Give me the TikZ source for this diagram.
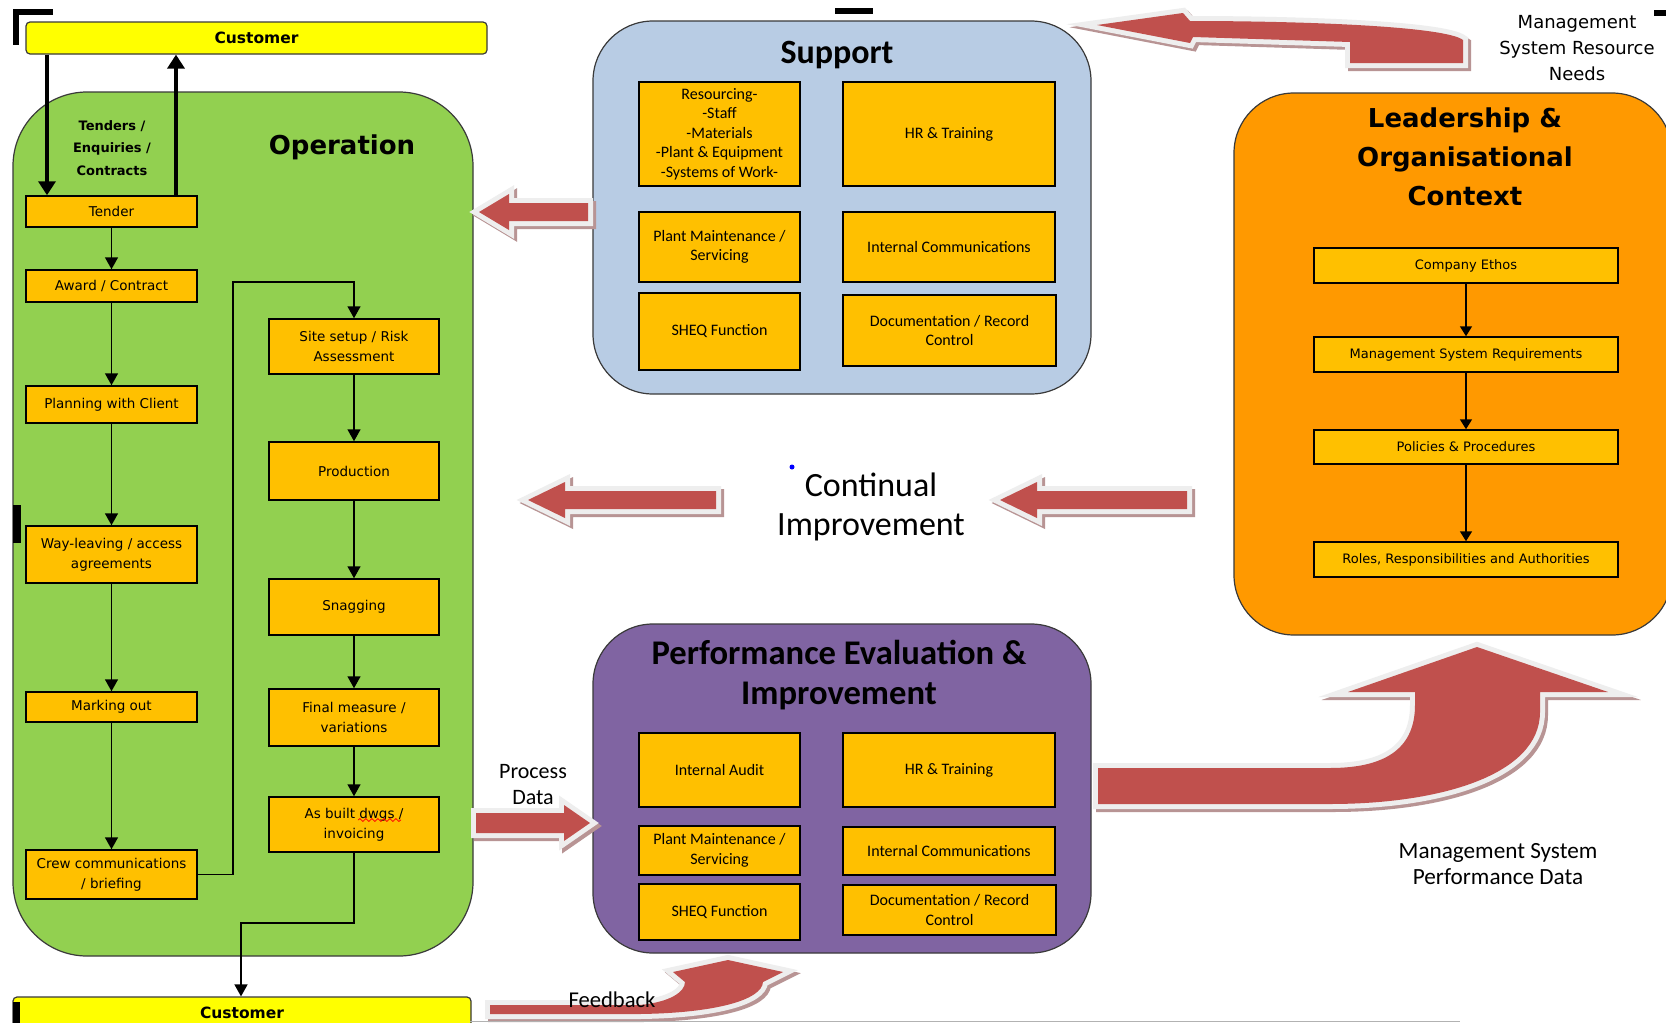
\documentclass[tikz,border=0pt]{standalone}
\usepackage{fontspec}
\setmainfont{Carlito}
\newfontfamily\dv{DejaVu Sans}
\usetikzlibrary{arrows.meta,decorations.pathmorphing}
\definecolor{cyel}{HTML}{FFFF00}
\definecolor{corg}{HTML}{FFC000}
\definecolor{cgrn}{HTML}{92D050}
\definecolor{cblu}{HTML}{B8CCE4}
\definecolor{cpur}{HTML}{8064A2}
\definecolor{cldr}{HTML}{FF9900}
\definecolor{cred}{HTML}{C0504D}
\definecolor{crim}{HTML}{EEEEEE}
\definecolor{cshd}{HTML}{B89494}
\definecolor{cedge}{HTML}{3A3A3A}
\newcommand\blkarrow[1]{%
  \filldraw[cshd,line width=5pt,shift={(3,3)}] #1;
  \filldraw[crim,line width=5pt] #1;
  \fill[cred] #1;}
\begin{document}
\begin{tikzpicture}[x=0.5pt,y=-0.5pt,
 region/.style={draw=cedge,line width=0.6pt,rounded corners=30pt,inner sep=0pt},
 obox/.style={draw=black,line width=0.75pt,fill=corg,inner sep=0pt,align=center,font=\dv\fontsize{6.75pt}{10pt}\selectfont},
 sbox/.style={draw=black,line width=0.75pt,fill=corg,inner sep=0pt,align=center,font=\fontsize{8pt}{9.7pt}\selectfont},
 lbox/.style={obox,font=\dv\fontsize{6.5pt}{8pt}\selectfont},
 custbox/.style={draw=cedge,line width=0.6pt,fill=cyel,rounded corners=2pt,inner sep=0pt,font=\dv\bfseries\fontsize{7.75pt}{9pt}\selectfont},
 arr/.style={line width=0.75pt,-{Triangle[length=6pt,width=6.5pt]}},
 larr/.style={line width=0.75pt,-{Triangle[length=5pt,width=6pt]}},
 bigarr/.style={line width=2pt,-{Triangle[length=7pt,width=8.5pt]}},
 lbl/.style={align=center,inner sep=0pt},
 blk/.style={fill=black}
]
\useasboundingbox (0,0) rectangle (1666,1023);
\fill[white] (0,0) rectangle (1666,1023);

% regions
\node[region,fill=cgrn,rounded corners=37pt,minimum width=230pt,minimum height=432pt] (op) at (243,524) {};
\node[region,fill=cblu,minimum width=249pt,minimum height=186.5pt] (sup) at (842,207.5) {};
\node[region,fill=cpur,minimum width=249pt,minimum height=164.5pt] (pe) at (842,788.5) {};
\node[region,fill=cldr,minimum width=219pt,minimum height=271pt] (ldr) at (1453,364) {};

% customers
\node[custbox,minimum width=230.5pt,minimum height=16pt] (cust1) at (256.5,38) {Customer};
\node[custbox,minimum width=229pt,minimum height=16pt] (cust2) at (242,1013) {Customer};

% titles
\node[font=\dv\bfseries\fontsize{13pt}{15pt}\selectfont] (optitle) at (342,147) {Operation};
\node[font=\bfseries\fontsize{17pt}{19.5pt}\selectfont] (suptitle) at (837,55) {Support};
\node[lbl,font=\bfseries\fontsize{17.3pt}{19.8pt}\selectfont] (petitle) at (839,675) {Performance Evaluation \&\\Improvement};
\node[lbl,font=\dv\bfseries\fontsize{13pt}{19.5pt}\selectfont] (ldrtitle) at (1465,157) {Leadership \&\\Organisational\\Context};
\node[lbl,font=\dv\bfseries\fontsize{6.5pt}{11.25pt}\selectfont] (ten) at (112,148) {Tenders /\\Enquiries /\\Contracts};

% operation left column
\node[obox,minimum width=85.5pt,minimum height=15.5pt] (tender) at (111.5,211.5) {Tender};
\node[obox,minimum width=85.5pt,minimum height=16pt] (award) at (111.5,286) {Award / Contract};
\node[obox,minimum width=85.5pt,minimum height=18.5pt] (plan) at (111.5,404.5) {Planning with Client};
\node[obox,minimum width=85.5pt,minimum height=28.5pt] (way) at (111.5,554.5) {Way-leaving / access\\agreements};
\node[obox,minimum width=85.5pt,minimum height=15pt] (markout) at (111.5,707) {Marking out};
\node[obox,minimum width=85.5pt,minimum height=24.5pt] (crew) at (111.5,874.5) {Crew communications\\/ briefing};
% operation right column
\node[obox,minimum width=85pt,minimum height=27.5pt] (site) at (354,346.5) {Site setup / Risk\\Assessment};
\node[obox,minimum width=85pt,minimum height=29pt] (prod) at (354,471) {Production};
\node[obox,minimum width=85pt,minimum height=28pt] (snag) at (354,607) {Snagging};
\node[obox,minimum width=85pt,minimum height=28.5pt] (final) at (354,717.5) {Final measure /\\variations};
\node[obox,minimum width=85pt,minimum height=27.5pt] (asbuilt) at (354,824.5) {As built dwgs /\\invoicing};
\draw[red,line width=0.4pt,decorate,decoration={snake,amplitude=0.7pt,segment length=3pt}] (358,820) -- (401,820);

\draw[arr] (tender.south) -- (award.north);
\draw[arr] (award.south) -- (plan.north);
\draw[arr] (plan.south) -- (way.north);
\draw[arr] (way.south) -- (markout.north);
\draw[arr] (markout.south) -- (crew.north);
\coordinate (j1) at (233,282);
\draw[arr] (crew.east) -| (j1) -| (site.north);
\draw[arr] (site.south) -- (prod.north);
\draw[arr] (prod.south) -- (snag.north);
\draw[arr] (snag.south) -- (final.north);
\draw[arr] (final.south) -- (asbuilt.north);
\coordinate (j2) at (241,923);
\draw[arr] (asbuilt.south) |- (j2) -- (j2 |- cust2.north);
\coordinate (c1) at (47,0);
\coordinate (c2) at (176,0);
\draw[bigarr] (c1 |- cust1.south) -- (c1 |- tender.north);
\draw[bigarr] (c2 |- tender.north) -- (c2 |- cust1.south);

% support boxes
\node[sbox,minimum width=80.5pt,minimum height=52pt] (res) at (719.5,134) {Resourcing-\\-Staff\\-Materials\\-Plant \& Equipment\\-Systems of Work-};
\node[sbox,minimum width=106pt,minimum height=52pt] (hr1) at (949,134) {HR \& Training};
\node[sbox,minimum width=80.5pt,minimum height=35pt] (pm1) at (719.5,247) {Plant Maintenance /\\Servicing};
\node[sbox,minimum width=106pt,minimum height=35pt] (ic1) at (949,247) {Internal Communications};
\node[sbox,minimum width=80.5pt,minimum height=38.5pt] (sheq1) at (719.5,331.5) {SHEQ Function};
\node[sbox,minimum width=106.5pt,minimum height=35.5pt] (doc1) at (949.5,330.5) {Documentation / Record\\Control};

% performance boxes
\node[sbox,minimum width=80.5pt,minimum height=37pt] (ia) at (719.5,770) {Internal Audit};
\node[sbox,minimum width=106pt,minimum height=37pt] (hr2) at (949,770) {HR \& Training};
\node[sbox,minimum width=80.5pt,minimum height=24.5pt] (pm2) at (719.5,850.5) {Plant Maintenance /\\Servicing};
\node[sbox,minimum width=106pt,minimum height=24pt] (ic2) at (949,851) {Internal Communications};
\node[sbox,minimum width=80.5pt,minimum height=28pt] (sheq2) at (719.5,912) {SHEQ Function};
\node[sbox,minimum width=106.5pt,minimum height=25pt] (doc2) at (949.5,910) {Documentation / Record\\Control};

% leadership boxes
\node[lbox,minimum width=152pt,minimum height=17.5pt] (ethos) at (1466,265.5) {Company Ethos};
\node[lbox,minimum width=152pt,minimum height=17.5pt] (msr) at (1466,354.5) {Management System Requirements};
\node[lbox,minimum width=152pt,minimum height=17pt] (pol) at (1466,447) {Policies \& Procedures};
\node[lbox,minimum width=152pt,minimum height=17.5pt] (roles) at (1466,559.5) {Roles, Responsibilities and Authorities};
\draw[larr] (ethos.south) -- (msr.north);
\draw[larr] (msr.south) -- (pol.north);
\draw[larr] (pol.south) -- (roles.north);

% block arrows
\blkarrow{(479,212) -- (509,194) -- (509,203) -- (588,203) -- (588,221) -- (509,221) -- (509,230) -- cycle}
\blkarrow{(528,500) -- (565,482) -- (565,491) -- (716,491) -- (716,509) -- (565,509) -- (565,518) -- cycle}
\blkarrow{(1000,500) -- (1037,482) -- (1037,491) -- (1187,491) -- (1187,509) -- (1037,509) -- (1037,518) -- cycle}
\blkarrow{(590,823) -- (564,805) -- (564,813) -- (476,813) -- (476,833) -- (564,833) -- (564,841) -- cycle}
\blkarrow{(1097,25) -- (1183,13) -- (1190,21) .. controls (1300,21) and (1445,26) .. (1463,40) -- (1463,63) -- (1350,63) -- (1350,42) -- (1193,37) -- (1190,43) -- cycle}
\blkarrow{(1098,768) -- (1330,768) .. controls (1390,768) and (1415,745) .. (1415,705) -- (1415,692) -- (1348,692) -- (1477,647) -- (1608,692) -- (1540,692) -- (1540,712) .. controls (1540,775) and (1440,804) .. (1330,804) -- (1098,804) -- cycle}
\blkarrow{(490,1005) -- (640,1005) .. controls (670,1002) and (685,992) .. (685,982) -- (673,972) -- (728,960) -- (783,972) -- (763,982) .. controls (762,1000) and (715,1013) .. (640,1014) -- (490,1014) -- cycle}

% labels
\node[lbl,font=\dv\fontsize{9pt}{13pt}\selectfont] (msrn) at (1577,48) {Management\\System Resource\\Needs};
\node[lbl,font=\fontsize{17pt}{19.5pt}\selectfont] (ci) at (871,507) {Continual\\Improvement};
\node[lbl,font=\fontsize{11pt}{13pt}\selectfont] (pd) at (533,785) {Process\\Data};
\node[lbl,font=\fontsize{11.3pt}{12.5pt}\selectfont] (fb) at (612,1000) {Feedback};
\node[lbl,font=\fontsize{11.6pt}{12.8pt}\selectfont] (mspd) at (1498,864) {Management System\\Performance Data};
\fill[blue] (792,467) circle (2.5);

% stray marks and base line
\draw[gray!60,line width=0.5pt] (470,1021) -- (1460,1021);
\fill[blk] (13,9) rectangle (53,15);
\fill[blk] (13,9) rectangle (19,45);
\fill[blk] (835,8) rectangle (873,14);
\fill[blk] (1654,10) rectangle (1666,16);
\fill[blk] (13,505) rectangle (21,543);
\fill[blk] (13,1002) rectangle (20,1023);
\end{tikzpicture}
\end{document}
